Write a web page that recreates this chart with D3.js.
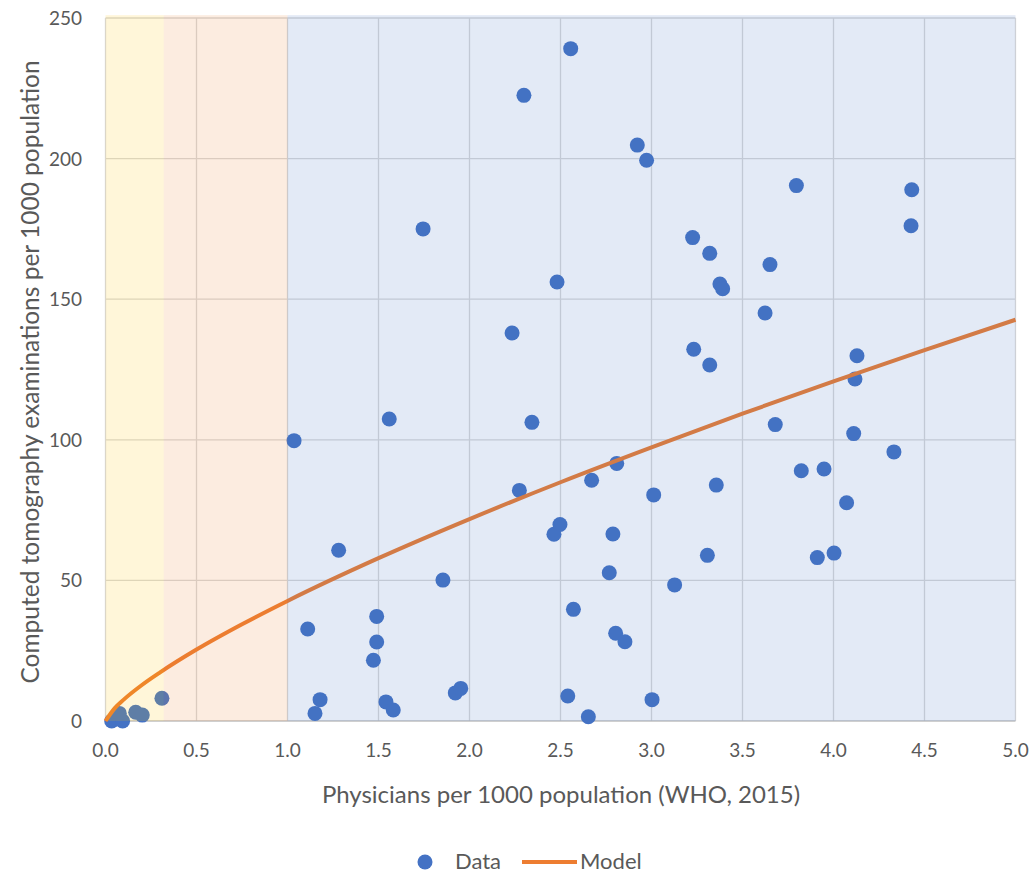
<!DOCTYPE html>
<html>
<head>
<meta charset="utf-8">
<script src="https://cdn.jsdelivr.net/npm/d3@7"></script>
<style>
  body { margin: 0; background: #fff; }
  text { font-family: Lato, "Open Sans", sans-serif; fill: #595959; }
</style>
</head>
<body>
<div id="chart"></div>
<script>
var width = 1033, height = 874;

// physicians per 1000 (x) and CT exams per 1000 (y)
var dataX = [0.034, 0.094, 0.076, 0.166, 0.202, 0.31, 1.036, 1.111, 1.151, 1.179,
	1.281, 1.472, 1.49, 1.49, 1.541, 1.559, 1.581, 1.745, 1.854, 1.922,
	1.952, 2.234, 2.274, 2.299, 2.343, 2.464, 2.481, 2.497, 2.540, 2.556,
	2.571, 2.653, 2.671, 2.768, 2.788, 2.803, 2.809, 2.854, 2.922, 2.973,
	3.003, 3.012, 3.127, 3.226, 3.232, 3.307, 3.320, 3.320, 3.356, 3.376,
	3.391, 3.624, 3.651, 3.680, 3.796, 3.823, 3.911, 3.948, 4.003, 4.072,
	4.111, 4.118, 4.129, 4.332, 4.426, 4.430];
var dataY = [0, 0, 2.7, 3.1, 2.1, 8.1, 99.7, 32.7, 2.7, 7.6,
	60.7, 21.6, 28.1, 37.2, 6.8, 107.4, 3.9, 175.0, 50.1, 10.0,
	11.6, 138.0, 82.0, 222.5, 106.2, 66.4, 156.1, 69.9, 8.9, 239.1,
	39.7, 1.5, 85.6, 52.7, 66.5, 31.2, 91.6, 28.2, 204.8, 199.4,
	7.6, 80.4, 48.4, 171.9, 132.2, 58.9, 166.3, 126.6, 83.9, 155.4,
	153.7, 145.1, 162.3, 105.4, 190.4, 89.0, 58.1, 89.6, 59.7, 77.6,
	102.2, 121.6, 129.9, 95.7, 176.1, 188.9];

// model curve
var modelX = [0, 0.05, 0.1, 0.2, 0.3, 0.5, 0.75, 1, 1.5, 2, 2.5, 3, 3.5, 4, 4.5, 5];
var modelY = [0, 4.5, 7.6, 12.8, 17.3, 25.4, 34.4, 42.7, 57.9, 71.8, 84.9, 97.3, 109.3, 120.8, 131.9, 142.7];

// shaded bands
var bandStart = [0, 0.32, 1.0];
var bandEnd = [0.32, 1.0, 5.0];
var bandColor = ["#FFC000", "#ED7D31", "#4472C4"];

var xTicks = [0, 0.5, 1, 1.5, 2, 2.5, 3, 3.5, 4, 4.5, 5];
var yTicks = [0, 50, 100, 150, 200, 250];

var x = d3.scaleLinear().domain([0, 5]).range([105.5, 1015.5]);
var y = d3.scaleLinear().domain([0, 250]).range([721, 18]);

var svg = d3.select("#chart").append("svg")
	.attr("width", width)
	.attr("height", height);

// grid
svg.append("g").selectAll("line").data(xTicks).enter().append("line")
	.attr("x1", function(d){ return x(d); })
	.attr("x2", function(d){ return x(d); })
	.attr("y1", y(250)).attr("y2", y(0))
	.attr("stroke", "#D9D9D9").attr("stroke-width", 1.3);
svg.append("g").selectAll("line").data(yTicks).enter().append("line")
	.attr("x1", x(0)).attr("x2", x(5))
	.attr("y1", function(d){ return y(d); })
	.attr("y2", function(d){ return y(d); })
	.attr("stroke", function(d){ return d == 0 ? "#BFBFBF" : "#D9D9D9"; })
	.attr("stroke-width", 1.3);

// data points
svg.append("g").selectAll("circle").data(dataX).enter().append("circle")
	.attr("cx", function(d){ return x(d); })
	.attr("cy", function(d, i){ return y(dataY[i]); })
	.attr("r", 7.5)
	.attr("fill", "#4472C4");

// model line
var line = d3.line()
	.x(function(d){ return x(d); })
	.y(function(d, i){ return y(modelY[i]); })
	.curve(d3.curveMonotoneX);
svg.append("path")
	.attr("d", line(modelX))
	.attr("fill", "none")
	.attr("stroke", "#ED7D31")
	.attr("stroke-width", 4);

// translucent bands on top
svg.append("g").selectAll("rect").data(bandStart).enter().append("rect")
	.attr("x", function(d){ return x(d); })
	.attr("width", function(d, i){ return x(bandEnd[i]) - x(d); })
	.attr("y", y(251))
	.attr("height", y(0) - y(251))
	.attr("fill", function(d, i){ return bandColor[i]; })
	.attr("fill-opacity", 0.15);

// tick labels
svg.append("g").selectAll("text").data(yTicks).enter().append("text")
	.attr("x", 82)
	.attr("y", function(d){ return y(d) + 7; })
	.attr("text-anchor", "end")
	.style("font-size", "19px")
	.text(function(d){ return d; });
svg.append("g").selectAll("text").data(xTicks).enter().append("text")
	.attr("x", function(d){ return x(d); })
	.attr("y", 757)
	.attr("text-anchor", "middle")
	.style("font-size", "19px")
	.text(function(d){ return d3.format(".1f")(d); });

// axis titles
svg.append("text")
	.attr("x", 561).attr("y", 803)
	.attr("text-anchor", "middle")
	.style("font-size", "24px")
	.text("Physicians per 1000 population (WHO, 2015)");
svg.append("text")
	.attr("transform", "translate(39,372) rotate(-90)")
	.attr("text-anchor", "middle")
	.style("font-size", "24.5px")
	.text("Computed tomography examinations per 1000 population");

// legend
var legend = svg.append("g");
legend.append("circle").attr("cx", 425).attr("cy", 862).attr("r", 7.5).attr("fill", "#4472C4");
legend.append("text").attr("x", 455).attr("y", 869).style("font-size", "22px").text("Data");
legend.append("line").attr("x1", 522).attr("x2", 577).attr("y1", 862).attr("y2", 862)
	.attr("stroke", "#ED7D31").attr("stroke-width", 4);
legend.append("text").attr("x", 580).attr("y", 869).style("font-size", "22px").text("Model");
</script>
</body>
</html>
